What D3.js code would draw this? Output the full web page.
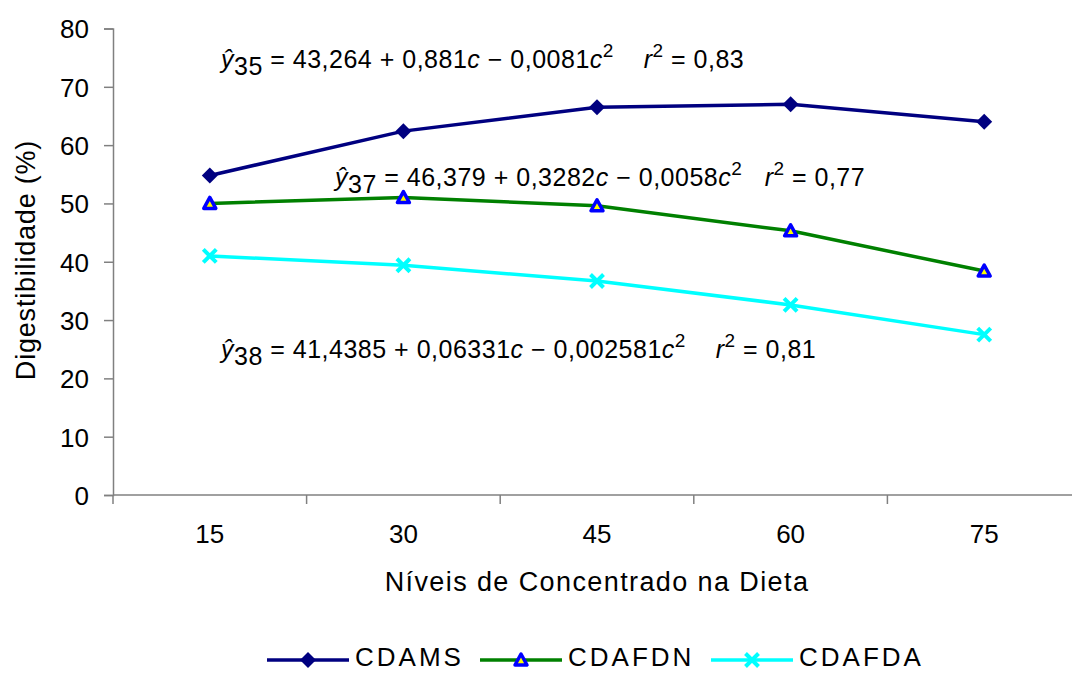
<!DOCTYPE html>
<html>
<head>
<meta charset="utf-8">
<script src="https://cdn.jsdelivr.net/npm/d3@7"></script>
<style>
  body { margin: 0; background: #fff; }
  text { font-family: "Liberation Sans", Arial, sans-serif; fill: #000; }
</style>
</head>
<body>
<div id="chart"></div>
<script>
// Chart data
var niveis = ["15", "30", "45", "60", "75"];
var cdams = [54.8, 62.4, 66.5, 67.0, 64.0];
var cdafdn = [50.0, 51.0, 49.6, 45.3, 38.4];
var cdafda = [41.0, 39.4, 36.7, 32.6, 27.5];
var yTicks = [0, 10, 20, 30, 40, 50, 60, 70, 80];

var svgWidth = 1072;
var svgHeight = 673;

var svg = d3.select("#chart")
  .append("svg")
  .attr("width", svgWidth)
  .attr("height", svgHeight);

// x is a band scale, points sit in the middle of each band
var x = d3.scaleBand()
  .domain(niveis)
  .range([113, 1081]);

var y = d3.scaleLinear()
  .domain([0, 80])
  .range([495, 28.5]);

var xc = d => x(d) + x.bandwidth() / 2;

// y axis
var yAxis = svg.append("g")
  .attr("transform", "translate(113,0)")
  .call(d3.axisLeft(y).tickValues(yTicks).tickSize(9).tickPadding(15));
yAxis.select(".domain").attr("stroke", "#808080").attr("stroke-width", 1.5);
yAxis.selectAll(".tick line").attr("stroke", "#808080").attr("stroke-width", 1.5);
yAxis.selectAll(".tick text")
  .attr("dy", "0.36em")
  .style("font-size", "26px")
  .style("font-family", "Liberation Sans, Arial, sans-serif");

// x axis, ticks between categories
var xAxisLine = svg.append("g");
xAxisLine.append("line")
  .attr("x1", 113).attr("x2", 1081)
  .attr("y1", y(0)).attr("y2", y(0))
  .attr("stroke", "#808080").attr("stroke-width", 1.5);
xAxisLine.selectAll(".xt")
  .data(niveis)
  .enter()
  .append("line")
  .attr("x1", d => x(d)).attr("x2", d => x(d))
  .attr("y1", y(0)).attr("y2", y(0) + 9)
  .attr("stroke", "#808080").attr("stroke-width", 1.5);
xAxisLine.selectAll(".xl")
  .data(niveis)
  .enter()
  .append("text")
  .attr("x", d => xc(d))
  .attr("y", 543)
  .attr("text-anchor", "middle")
  .style("font-size", "26px")
  .text(d => d);

// axis titles
svg.append("text")
  .attr("transform", "translate(35,260) rotate(-90)")
  .attr("text-anchor", "middle")
  .style("font-size", "27px")
  .style("letter-spacing", "0.8px")
  .text("Digestibilidade (%)");

svg.append("text")
  .attr("x", 597)
  .attr("y", 591)
  .attr("text-anchor", "middle")
  .style("font-size", "27px")
  .style("letter-spacing", "1.4px")
  .text("Níveis de Concentrado na Dieta");

var line = d3.line()
  .x((d, i) => xc(niveis[i]))
  .y(d => y(d));

var series = [
  { name: "CDAMS", values: cdams, color: "#000080", marker: "diamond" },
  { name: "CDAFDN", values: cdafdn, color: "#008000", marker: "triangle" },
  { name: "CDAFDA", values: cdafda, color: "#00FFFF", marker: "x" }
];

function drawMarker(g, type, cx, cy) {
  if (type === "diamond") {
    g.append("path")
      .attr("d", `M${cx},${cy - 8}L${cx + 8},${cy}L${cx},${cy + 8}L${cx - 8},${cy}Z`)
      .attr("fill", "#000080");
  } else if (type === "triangle") {
    g.append("path")
      .attr("d", `M${cx},${cy - 6}L${cx + 6},${cy + 5}L${cx - 6},${cy + 5}Z`)
      .attr("fill", "#FFFF00")
      .attr("stroke", "#0000FF")
      .attr("stroke-width", 3.5)
      .attr("stroke-linejoin", "round");
  } else {
    g.append("path")
      .attr("d", `M${cx - 6.5},${cy - 6.5}L${cx + 6.5},${cy + 6.5}M${cx + 6.5},${cy - 6.5}L${cx - 6.5},${cy + 6.5}`)
      .attr("stroke", "#00FFFF")
      .attr("stroke-width", 4);
  }
}

series.forEach(function(s) {
  svg.append("path")
    .datum(s.values)
    .attr("d", line)
    .attr("fill", "none")
    .attr("stroke", s.color)
    .attr("stroke-width", 3.5);
  var mg = svg.append("g");
  s.values.forEach(function(v, i) {
    drawMarker(mg, s.marker, xc(niveis[i]), y(v));
  });
});

// regression equations
function equation(xPos, yPos, sub, parts, gap) {
  var t = svg.append("text")
    .attr("x", xPos)
    .attr("y", yPos)
    .style("font-size", "25px")
    .style("letter-spacing", "0.5px")
    .attr("xml:space", "preserve");
  t.append("tspan").style("font-style", "italic").text("ŷ");
  t.append("tspan").attr("dy", 7).text(sub);
  t.append("tspan").attr("dy", -7).text(" = " + parts[0] + " + " + parts[1]);
  t.append("tspan").style("font-style", "italic").text("c");
  t.append("tspan").text(" \u2212 " + parts[2]);
  t.append("tspan").style("font-style", "italic").text("c");
  t.append("tspan").attr("dy", -11).style("font-size", "19px").text("2");
  t.append("tspan").attr("dy", 11).text(gap);
  t.append("tspan").style("font-style", "italic").text("r");
  t.append("tspan").attr("dy", -11).style("font-size", "19px").text("2");
  t.append("tspan").attr("dy", 11).text(" = " + parts[3]);
}

equation(221, 68, "35", ["43,264", "0,881", "0,0081", "0,83"], "\u00a0\u00a0\u00a0 ");
equation(335, 186, "37", ["46,379", "0,3282", "0,0058", "0,77"], "\u00a0\u00a0 ");
equation(221, 358, "38", ["41,4385", "0,06331", "0,002581", "0,81"], "\u00a0\u00a0\u00a0 ");

// legend
var legendX = [267, 480, 711];
var legend = svg.append("g");
series.forEach(function(s, i) {
  var lx = legendX[i];
  legend.append("line")
    .attr("x1", lx).attr("x2", lx + 82)
    .attr("y1", 660).attr("y2", 660)
    .attr("stroke", s.color)
    .attr("stroke-width", 3.5);
  drawMarker(legend, s.marker, lx + 41, 660);
  legend.append("text")
    .attr("x", lx + 88)
    .attr("y", 666)
    .style("font-size", "26px")
    .style("letter-spacing", "3px")
    .text(s.name);
});
</script>
</body>
</html>
